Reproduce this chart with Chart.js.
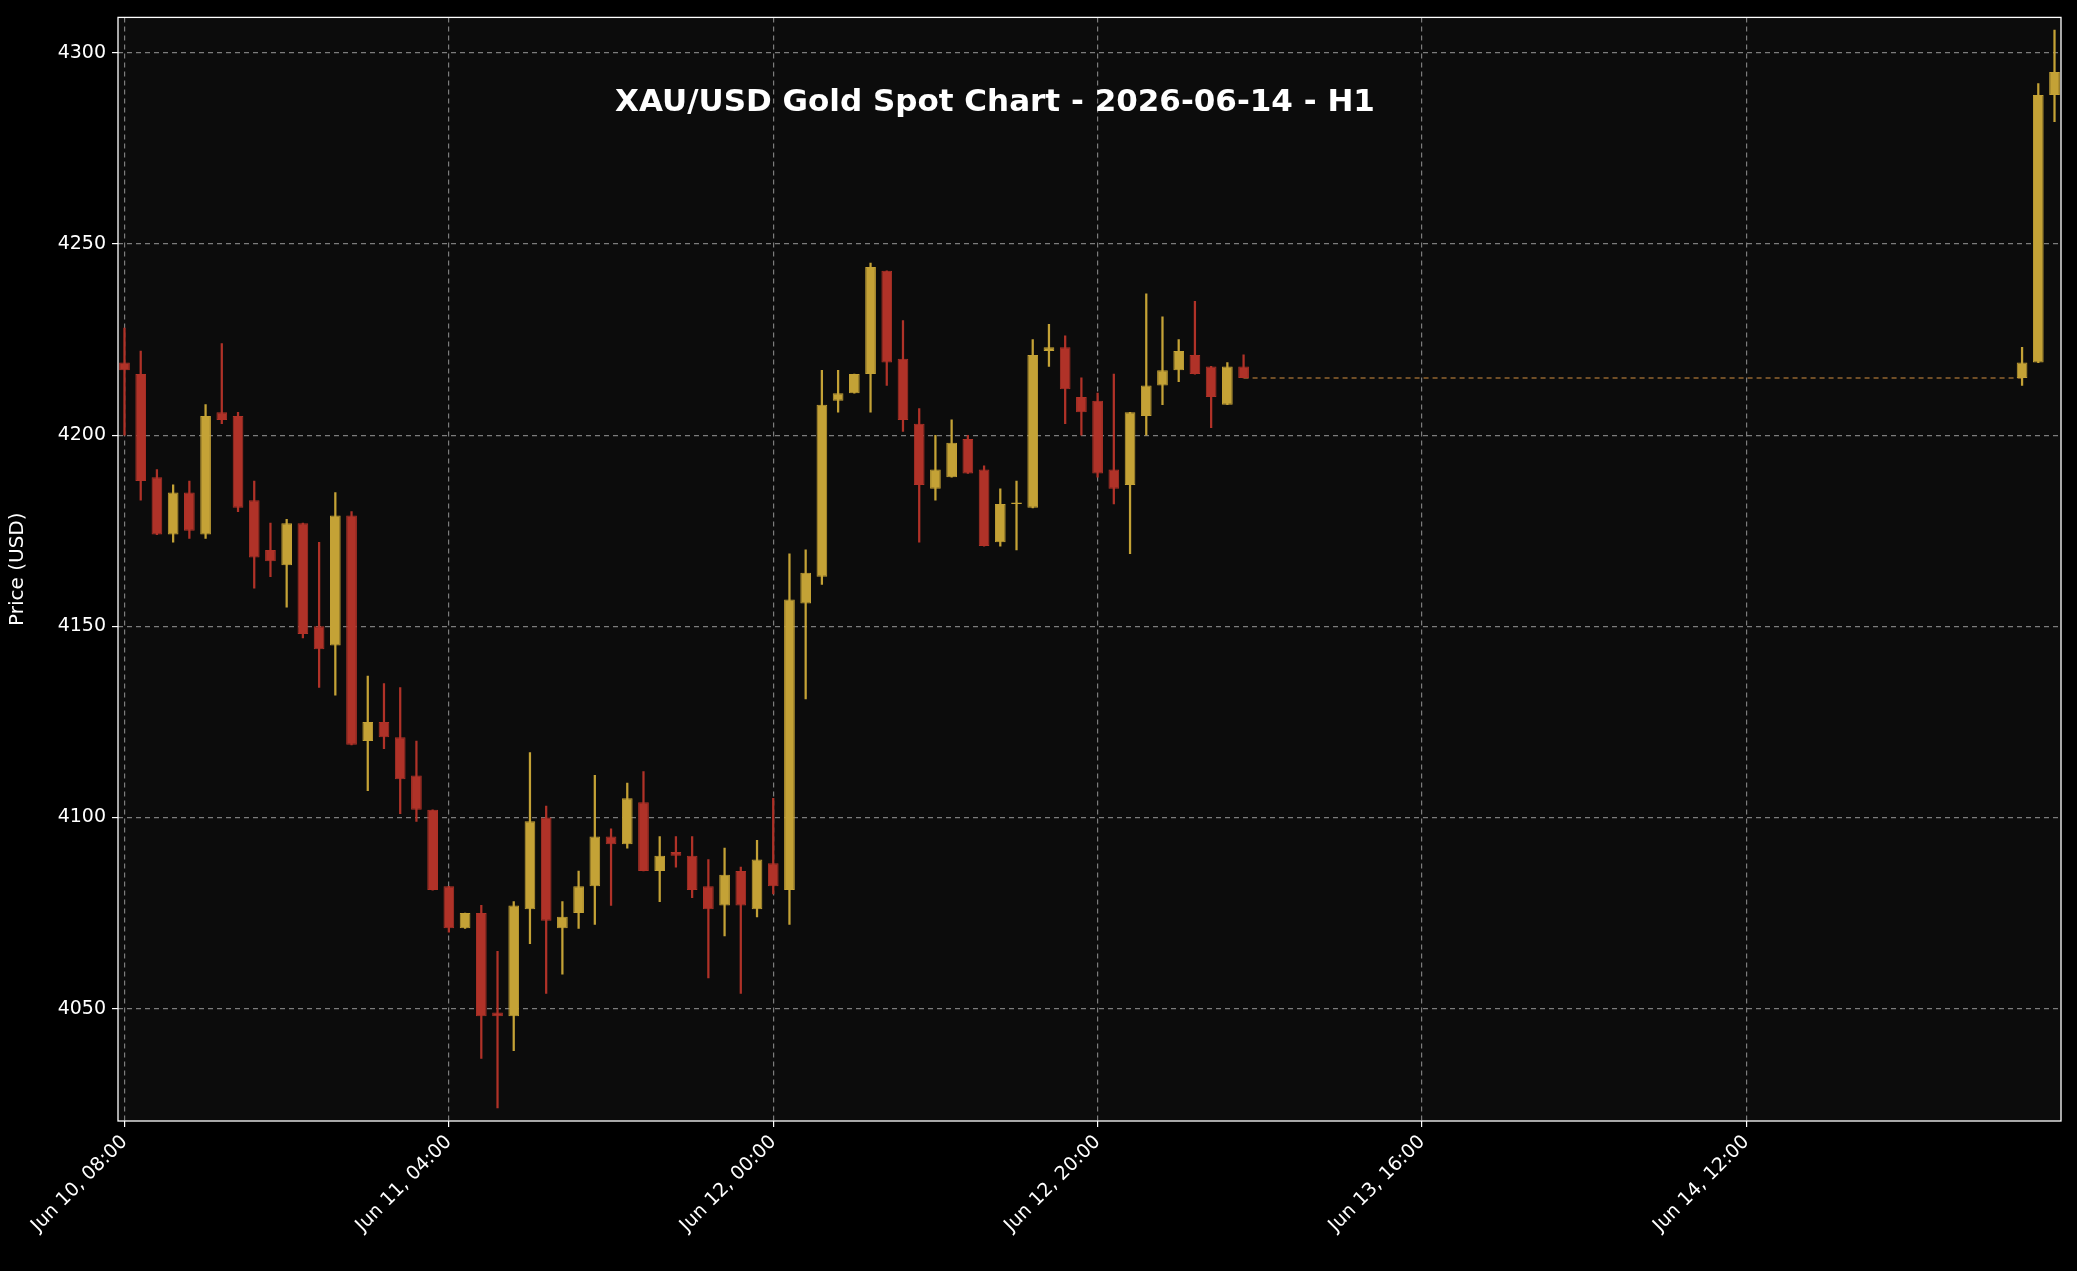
<!DOCTYPE html>
<html><head><meta charset="utf-8">
<script src="https://cdn.jsdelivr.net/npm/chart.js@4"></script>
<style>html,body{margin:0;padding:0;background:#000;}canvas{display:block;}</style>
</head><body>
<canvas id="c" width="2077" height="1271"></canvas>
<script>
const hours = [0,1,2,3,4,5,6,7,8,9,10,11,12,13,14,15,16,17,18,19,20,21,22,23,24,25,26,27,28,29,30,31,32,33,34,35,36,37,38,39,40,41,42,43,44,45,46,47,48,49,50,51,52,53,54,55,56,57,58,59,60,61,62,63,64,65,66,67,68,69,117,118,119];
const opens  = [4219,4216,4189,4174,4185,4174,4206,4205,4183,4170,4166,4177,4150,4145,4179,4120,4125,4121,4111,4102,4082,4071,4075,4049,4048,4076,4100,4071,4075,4082,4095,4093,4104,4086,4091,4090,4082,4077,4086,4076,4088,4081,4156,4163,4209,4211,4216,4243,4220,4203,4186,4189,4199,4191,4172,4182,4181,4222,4223,4210,4209,4191,4187,4205,4213,4217,4221,4218,4208,4218,4215,4219,4289];
const highs  = [4228,4222,4191,4187,4188,4208,4224,4206,4188,4177,4178,4177,4172,4185,4180,4137,4135,4134,4120,4102,4082,4075,4077,4065,4078,4117,4103,4078,4086,4111,4097,4109,4112,4095,4095,4095,4089,4092,4087,4094,4105,4169,4170,4217,4217,4216,4245,4243,4230,4207,4200,4204,4200,4192,4186,4188,4225,4229,4226,4215,4211,4216,4206,4237,4231,4225,4235,4218,4219,4221,4223,4292,4306];
const lows   = [4200,4183,4174,4172,4173,4173,4203,4180,4160,4163,4155,4147,4134,4132,4119,4107,4118,4101,4099,4081,4070,4071,4037,4024,4039,4067,4054,4059,4071,4072,4077,4092,4086,4078,4087,4079,4058,4069,4054,4074,4080,4072,4131,4161,4206,4211,4206,4213,4201,4172,4183,4189,4190,4171,4171,4170,4181,4218,4203,4200,4189,4182,4169,4200,4208,4214,4216,4202,4208,4215,4213,4219,4282];
const closes = [4217,4188,4174,4185,4175,4205,4204,4181,4168,4167,4177,4148,4144,4179,4119,4125,4121,4110,4102,4081,4071,4075,4048,4048,4077,4099,4073,4074,4082,4095,4093,4105,4086,4090,4090,4081,4076,4085,4077,4089,4082,4157,4164,4208,4211,4216,4244,4219,4204,4187,4191,4198,4190,4171,4182,4182,4221,4223,4212,4206,4190,4186,4206,4213,4217,4222,4216,4210,4218,4215,4219,4289,4295];
const tickHours = [0,20,40,60,80,100];
const tickLabels = ["Jun 10, 08:00","Jun 11, 04:00","Jun 12, 00:00","Jun 12, 20:00","Jun 13, 16:00","Jun 14, 12:00"];
const yTicks = [4050,4100,4150,4200,4250,4300];
const gapLine = [{x:69,y:4215},{x:117,y:4215}];

const GOLD='#c4a236', RED='#b03228';
const col = opens.map((o,i)=> closes[i]>=o ? GOLD : RED);
const bodies = hours.map((h,i)=>{const lo=Math.min(opens[i],closes[i]),hi=Math.max(opens[i],closes[i]);return {x:h,y:[lo,hi===lo?hi+0.4:hi]};});
const wicks = hours.map((h,i)=>({x:h, y:[lows[i],highs[i]]}));

const bgPlugin={id:'bg',beforeDraw(ch){const a=ch.chartArea,c=ch.ctx;c.save();c.fillStyle='#000';c.fillRect(0,0,ch.width,ch.height);c.fillStyle='#0c0c0c';c.fillRect(a.left,a.top,a.right-a.left,a.bottom-a.top);c.restore();},
 afterDraw(ch){const a=ch.chartArea,c=ch.ctx;c.save();c.strokeStyle='#fff';c.lineWidth=1.3;c.strokeRect(a.left,a.top,a.right-a.left,a.bottom-a.top);
 c.fillStyle='#fff';c.font='bold 31px "DejaVu Sans"';c.textAlign='center';c.textBaseline='middle';c.fillText('XAU/USD Gold Spot Chart - 2026-06-14 - H1',995,103);c.restore();}};

new Chart(document.getElementById('c'),{
 data:{datasets:[
  {type:'line',data:gapLine,borderColor:'rgba(190,130,60,0.75)',borderWidth:1.5,borderDash:[5,4],pointRadius:0,order:3},
  {type:'bar',data:wicks,backgroundColor:col,borderWidth:0,barThickness:1.6,grouped:false,order:2},
  {type:'bar',data:bodies,backgroundColor:col,borderColor:col,borderWidth:1,borderSkipped:false,barPercentage:0.66,categoryPercentage:1,grouped:false,order:1}
 ]},
 options:{responsive:false,animation:false,
  layout:{padding:{top:16,right:16,left:0,bottom:0}},
  plugins:{legend:{display:false},tooltip:{enabled:false}},
  scales:{
   x:{type:'linear',min:-0.4,max:119.4,offset:false,
    afterBuildTicks(ax){ax.ticks=tickHours.map(v=>({value:v}));},
    afterFit(ax){ax.height=150;},
    ticks:{color:'#fff',font:{size:19,family:'DejaVu Sans'},minRotation:45,maxRotation:45,autoSkip:false,padding:4,callback:(v)=>{const k=tickHours.indexOf(v);return k>=0?tickLabels[k]:'';}},
    grid:{offset:false,color:'rgba(200,200,200,0.6)',tickColor:'#fff',tickLength:6,lineWidth:1.2},
    border:{display:false,dash:[5,4]}},
   y:{min:4020.6,max:4309.3,
    afterBuildTicks(ax){ax.ticks=yTicks.map(v=>({value:v}));},
    afterFit(ax){ax.width=118;},
    title:{display:true,text:'Price (USD)',color:'#fff',font:{size:20,family:'DejaVu Sans'},padding:6},
    ticks:{color:'#fff',font:{size:19,family:'DejaVu Sans'},padding:6,callback:(v)=>String(v)},
    grid:{color:'rgba(200,200,200,0.6)',tickColor:'#fff',tickLength:6,lineWidth:1.2},
    border:{display:false,dash:[5,4]}}
  }},
 plugins:[bgPlugin]
});
</script>
</body></html>
